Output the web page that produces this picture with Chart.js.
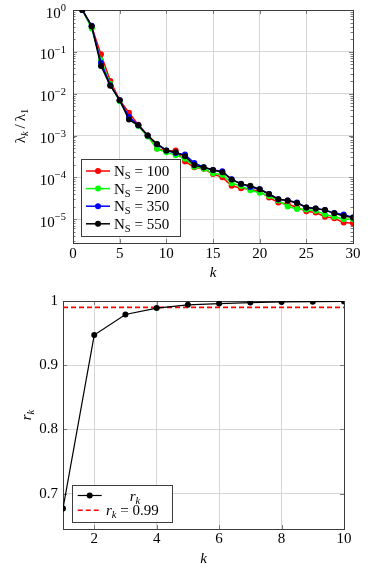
<!DOCTYPE html>
<html>
<head>
<meta charset="utf-8">
<script src="https://cdn.jsdelivr.net/npm/chart.js@4.4.1/dist/chart.umd.min.js"></script>
<style>
  body { margin: 0; background: #fff; }
  canvas { display: block; }
</style>
</head>
<body>
<canvas id="eigChart" width="374" height="287"></canvas>
<canvas id="rkChart" width="374" height="287"></canvas>
<script>
const SERIF = "'Liberation Serif', 'DejaVu Serif', serif";

// top panel: normalised eigenvalues
const kIndex = [1, 2, 3, 4, 5, 6, 7, 8, 9, 10, 11, 12, 13, 14, 15,
  16, 17, 18, 19, 20, 21, 22, 23, 24, 25, 26, 27, 28, 29, 30];
const ratioNs100 = [1, 0.40, 0.087, 0.020, 0.0070, 0.0035, 0.0018, 0.0010, 4.9e-4, 4.2e-4,
  4.4e-4, 2.4e-4, 1.75e-4, 1.6e-4, 1.2e-4, 1.0e-4, 6.3e-5, 5.5e-5, 5.2e-5, 4.6e-5,
  3.3e-5, 2.5e-5, 2.3e-5, 1.9e-5, 1.55e-5, 1.45e-5, 1.15e-5, 1.05e-5, 8.3e-6, 8.0e-6];
const ratioNs200 = [1, 0.36, 0.063, 0.017, 0.0066, 0.0026, 0.0017, 9.5e-4, 4.8e-4, 4.0e-4,
  3.4e-4, 2.8e-4, 1.8e-4, 1.6e-4, 1.25e-4, 1.15e-4, 7.2e-5, 6.2e-5, 4.9e-5, 4.3e-5,
  3.6e-5, 2.8e-5, 2.0e-5, 1.75e-5, 1.7e-5, 1.6e-5, 1.3e-5, 1.15e-5, 1.0e-5, 1.0e-5];
const ratioNs350 = [1, 0.42, 0.055, 0.016, 0.0070, 0.0028, 0.00175, 0.0010, 6.2e-4, 4.4e-4,
  3.8e-4, 3.5e-4, 2.2e-4, 1.75e-4, 1.5e-4, 1.4e-4, 9.0e-5, 7.0e-5, 5.9e-5, 5.2e-5,
  4.0e-5, 3.0e-5, 2.8e-5, 2.5e-5, 1.9e-5, 1.8e-5, 1.65e-5, 1.4e-5, 1.3e-5, 1.1e-5];
const ratioNs550 = [1, 0.41, 0.046, 0.0155, 0.0070, 0.0024, 0.00175, 0.0010, 6.3e-4, 4.4e-4,
  4.0e-4, 3.2e-4, 1.95e-4, 1.75e-4, 1.5e-4, 1.33e-4, 8.9e-5, 6.9e-5, 6.3e-5, 5.2e-5,
  4.0e-5, 3.0e-5, 2.8e-5, 2.45e-5, 1.9e-5, 1.8e-5, 1.65e-5, 1.38e-5, 1.2e-5, 1.1e-5];
const nsSizes = [100, 200, 350, 550];
const nsColors = ['#ff0000', '#00ff00', '#0000ff', '#000000'];
const logTickValues = [1e-5, 1e-4, 1e-3, 1e-2, 1e-1, 1];
const kTicksTop = [0, 5, 10, 15, 20, 25, 30];

// bottom panel: r_k
const kR = [1, 2, 3, 4, 5, 6, 7, 8, 9, 10];
const rValues = [0.677, 0.947, 0.979, 0.989, 0.994, 0.996, 0.9975, 0.9985, 0.999, 0.9993];
const rThreshold = 0.99;
const rTickValues = [0.7, 0.8, 0.9, 1];
const kTicksBottom = [2, 4, 6, 8, 10];

const mainFont = `15px ${SERIF}`;
const subFont = `10.5px ${SERIF}`;
const itFont = `italic 15px ${SERIF}`;
const itSub = `italic 10.5px ${SERIF}`;

function drawRich(ctx, parts, x, y, align) {
  let w = 0;
  parts.forEach(p => { ctx.font = p.f; w += ctx.measureText(p.t).width; });
  let cx = align === 'right' ? x - w : align === 'center' ? x - w / 2 : x;
  ctx.textAlign = 'left';
  ctx.textBaseline = 'alphabetic';
  parts.forEach(p => {
    ctx.font = p.f;
    ctx.fillText(p.t, cx, y + (p.dy || 0));
    cx += ctx.measureText(p.t).width;
  });
}

// frame round the plot, inward tick marks
const frame = {
  id: 'frame',
  beforeDatasetsDraw(chart) {
    const {ctx, chartArea: a, scales} = chart;
    ctx.save();
    ctx.strokeStyle = '#7a7a7a';
    ctx.lineWidth = 1;
    ctx.beginPath();
    scales.x.ticks.forEach(t => {
      const x = Math.round(scales.x.getPixelForValue(t.value)) + 0.5;
      ctx.moveTo(x, a.top); ctx.lineTo(x, a.top + 4);
      ctx.moveTo(x, a.bottom); ctx.lineTo(x, a.bottom - 4);
    });
    scales.y.ticks.forEach(t => {
      const y = Math.round(scales.y.getPixelForValue(t.value)) + 0.5;
      ctx.moveTo(a.left, y); ctx.lineTo(a.left + 4, y);
      ctx.moveTo(a.right, y); ctx.lineTo(a.right - 4, y);
    });
    if (scales.y.type === 'logarithmic') {
      for (let n = -6; n < 0; n++) {
        for (let m = 2; m <= 9; m++) {
          const v = m * Math.pow(10, n);
          if (v < scales.y.min || v > scales.y.max) continue;
          const y = Math.round(scales.y.getPixelForValue(v)) + 0.5;
          ctx.moveTo(a.left, y); ctx.lineTo(a.left + 2.5, y);
          ctx.moveTo(a.right, y); ctx.lineTo(a.right - 2.5, y);
        }
      }
    }
    ctx.stroke();
    ctx.strokeStyle = '#3c3c3c';
    ctx.strokeRect(Math.round(a.left) + 0.5, Math.round(a.top) + 0.5,
      Math.round(a.right - a.left), Math.round(a.bottom - a.top));
    ctx.restore();
  }
};

// y tick labels as 10^n and rotated y titles with subscripts
const extraText = {
  id: 'extraText',
  afterDraw(chart, args, opts) {
    const {ctx, scales} = chart;
    ctx.save();
    ctx.fillStyle = '#000';
    if (opts.powers) {
      opts.powers.forEach(v => {
        const y = scales.y.getPixelForValue(v);
        const e = Math.round(Math.log10(v));
        drawRich(ctx, [{t: '10', f: mainFont}, {t: (e < 0 ? '\u2212' : '') + Math.abs(e), f: subFont, dy: -6.5}],
          opts.powerRight, y + 7.5, 'right');
      });
    }
    if (opts.yTitle) {
      ctx.translate(opts.yTitle.x, opts.yTitle.y);
      ctx.rotate(-Math.PI / 2);
      drawRich(ctx, opts.yTitle.parts, 0, 5, 'center');
    }
    ctx.restore();
  }
};

const boxLegend = {
  id: 'boxLegend',
  afterDatasetsDraw(chart, args, o) {
    if (!o.rows) return;
    const ctx = chart.ctx;
    ctx.save();
    ctx.fillStyle = '#fff';
    ctx.fillRect(o.x, o.y, o.w, o.h);
    ctx.strokeStyle = '#3c3c3c';
    ctx.lineWidth = 1;
    ctx.strokeRect(o.x + 0.5, o.y + 0.5, o.w, o.h);
    o.rows.forEach((row, i) => {
      const ds = chart.data.datasets[row.dataset];
      const y = o.firstRow + i * o.rowGap;
      ctx.strokeStyle = ds.borderColor;
      ctx.lineWidth = ds.borderWidth;
      ctx.setLineDash(ds.borderDash || []);
      ctx.beginPath();
      ctx.moveTo(o.lineFrom, y);
      ctx.lineTo(o.lineTo, y);
      ctx.stroke();
      ctx.setLineDash([]);
      if (ds.pointRadius > 0) {
        ctx.fillStyle = ds.borderColor;
        ctx.beginPath();
        ctx.arc((o.lineFrom + o.lineTo) / 2, y, ds.pointRadius, 0, Math.PI * 2);
        ctx.fill();
      }
      ctx.fillStyle = '#000';
      drawRich(ctx, row.parts, row.textX, y + 5, row.align || 'left');
    });
    ctx.restore();
  }
};

const series = [ratioNs100, ratioNs200, ratioNs350, ratioNs550];

new Chart(document.getElementById('eigChart'), {
  type: 'line',
  data: {
    datasets: series.map((vals, i) => ({
      label: 'N_S = ' + nsSizes[i],
      data: kIndex.map((k, j) => ({x: k, y: vals[j]})),
      borderColor: nsColors[i],
      backgroundColor: nsColors[i],
      borderWidth: 1.5,
      pointRadius: 3,
      pointBorderWidth: 0,
      order: series.length - i
    }))
  },
  options: {
    responsive: false,
    animation: false,
    layout: {padding: {top: 10, right: 21, left: 0, bottom: 0}},
    plugins: {
      legend: {display: false},
      tooltip: {enabled: false},
      extraText: {
        powers: logTickValues,
        powerRight: 66,
        yTitle: {x: 20, y: 126, parts: [
          {t: '\u03bb', f: mainFont}, {t: 'k', f: itSub, dy: 3},
          {t: '\u2009/\u2009\u03bb', f: mainFont}, {t: '1', f: subFont, dy: 3}
        ]}
      },
      boxLegend: {
        x: 81, y: 159, w: 99, h: 77,
        firstRow: 171, rowGap: 17.6, lineFrom: 86, lineTo: 110,
        rows: nsSizes.map((n, i) => ({
          dataset: i, textX: 114,
          parts: [{t: 'N', f: mainFont}, {t: 'S', f: subFont, dy: 3}, {t: ' = ' + n, f: mainFont}]
        }))
      }
    },
    scales: {
      x: {
        type: 'linear', min: 0, max: 30,
        afterBuildTicks: s => { s.ticks = kTicksTop.map(v => ({value: v})); },
        afterFit: s => { s.height = 44; },
        grid: {color: '#d6d6d6', drawTicks: false},
        border: {display: false},
        ticks: {color: '#000', font: {family: SERIF, size: 15}, padding: 2, maxRotation: 0},
        title: {display: true, text: 'k', color: '#000',
          font: {family: SERIF, size: 15, style: 'italic'}, padding: {top: 0, bottom: 5}}
      },
      y: {
        type: 'logarithmic', min: 2.7e-6, max: 1,
        afterBuildTicks: s => { s.ticks = logTickValues.map(v => ({value: v})); },
        afterFit: s => { s.width = 73; },
        grid: {color: '#d6d6d6', drawTicks: false},
        border: {display: false},
        ticks: {display: false}
      }
    }
  },
  plugins: [frame, extraText, boxLegend]
});

new Chart(document.getElementById('rkChart'), {
  type: 'line',
  data: {
    datasets: [{
      label: 'r_k',
      data: kR.map((k, i) => ({x: k, y: rValues[i]})),
      borderColor: '#000',
      backgroundColor: '#000',
      borderWidth: 1.2,
      pointRadius: 3,
      pointBorderWidth: 0,
      order: 1
    }, {
      label: 'r_k = 0.99',
      data: [{x: kR[0], y: rThreshold}, {x: kR[kR.length - 1], y: rThreshold}],
      borderColor: '#ff0000',
      borderWidth: 1.6,
      borderDash: [5, 3],
      pointRadius: 0,
      order: 2
    }]
  },
  options: {
    responsive: false,
    animation: false,
    layout: {padding: {top: 10, right: 30, left: 0, bottom: 0}},
    plugins: {
      legend: {display: false},
      tooltip: {enabled: false},
      extraText: {
        yTitle: {x: 26, y: 128, parts: [{t: 'r', f: itFont}, {t: 'k', f: itSub, dy: 3}]}
      },
      boxLegend: {
        x: 72, y: 198, w: 100, h: 37,
        firstRow: 208.5, rowGap: 14.7, lineFrom: 77.7, lineTo: 101.7,
        rows: [
          {dataset: 0, textX: 135, align: 'center',
            parts: [{t: 'r', f: itFont}, {t: 'k', f: itSub, dy: 3}]},
          {dataset: 1, textX: 106,
            parts: [{t: 'r', f: itFont}, {t: 'k', f: itSub, dy: 3}, {t: ' = ' + rThreshold, f: mainFont}]}
        ]
      }
    },
    scales: {
      x: {
        type: 'linear', min: 1, max: 10,
        afterBuildTicks: s => { s.ticks = kTicksBottom.map(v => ({value: v})); },
        afterFit: s => { s.height = 45; },
        grid: {color: '#d6d6d6', drawTicks: false},
        border: {display: false},
        ticks: {color: '#000', font: {family: SERIF, size: 15}, padding: 1, maxRotation: 0},
        title: {display: true, text: 'k', color: '#000',
          font: {family: SERIF, size: 15, style: 'italic'}, padding: {top: 0, bottom: 6}}
      },
      y: {
        type: 'linear', min: 0.645, max: 1,
        afterBuildTicks: s => { s.ticks = rTickValues.map(v => ({value: v})); },
        afterFit: s => { s.width = 63; },
        grid: {color: '#d6d6d6', drawTicks: false},
        border: {display: false},
        ticks: {color: '#000', font: {family: SERIF, size: 15}, padding: 5,
          callback: v => String(v)}
      }
    }
  },
  plugins: [frame, extraText, boxLegend]
});
</script>
</body>
</html>
